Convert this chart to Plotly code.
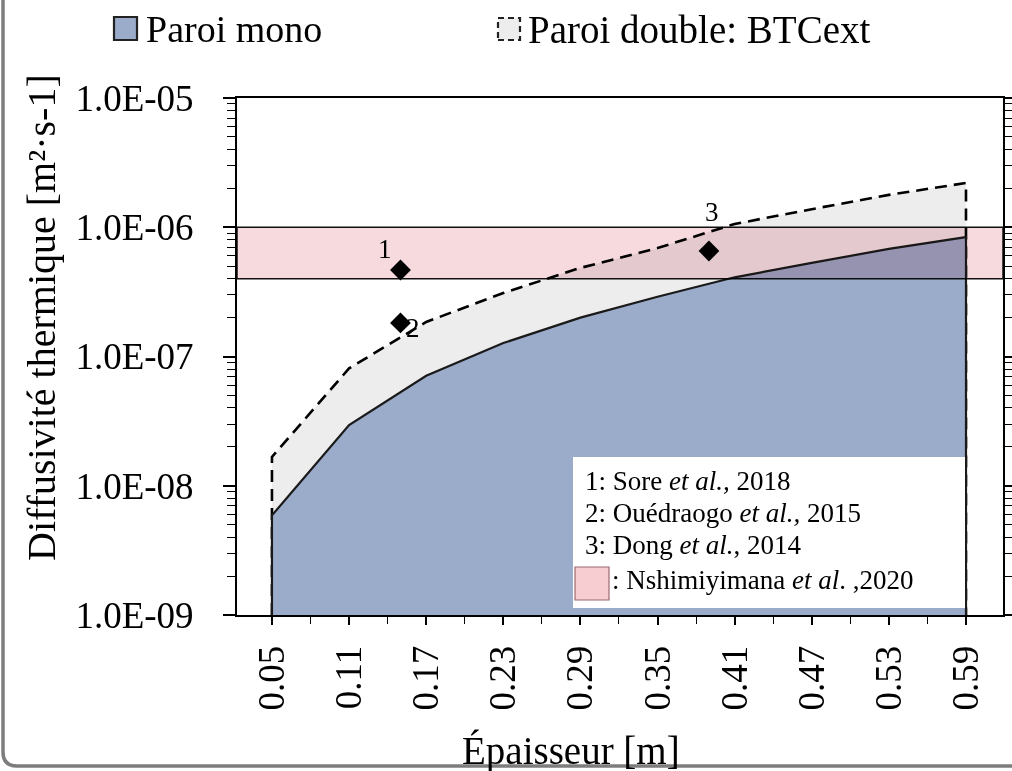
import math
import plotly.graph_objects as go

# ---------------- data ----------------
epaisseur = [0.05, 0.11, 0.17, 0.23, 0.29, 0.35, 0.41, 0.47, 0.53, 0.59]
paroi_mono = [5.9e-9, 2.95e-8, 7.1e-8, 1.27e-7, 2.0e-7, 2.9e-7, 4.1e-7, 5.3e-7, 6.8e-7, 8.4e-7]
paroi_double = [1.67e-8, 8.1e-8, 1.85e-7, 3.1e-7, 4.85e-7, 6.9e-7, 1.06e-6, 1.38e-6, 1.78e-6, 2.2e-6]
baseline = 1e-9

ref_x = [0.15, 0.15, 0.39]
ref_y = [4.67e-7, 1.82e-7, 6.55e-7]
ref_labels = ["1", "2", "3"]

band_low, band_high = 4e-7, 1e-6   # Nshimiyimana et al., 2020

x_tick_vals = [0.05, 0.11, 0.17, 0.23, 0.29, 0.35, 0.41, 0.47, 0.53, 0.59]
x_tick_text = ["0.05", "0.11", "0.17", "0.23", "0.29", "0.35", "0.41", "0.47", "0.53", "0.59"]
y_tick_vals = [1e-9, 1e-8, 1e-7, 1e-6, 1e-5]
y_tick_text = ["1.0E-09", "1.0E-08", "1.0E-07", "1.0E-06", "1.0E-05"]

legend_lines = [
    "1: Sore <i>et al.,</i> 2018",
    "2: Ouédraogo <i>et al.,</i> 2015",
    "3: Dong <i>et al.</i>, 2014",
    ": Nshimiyimana <i>et al</i>. ,2020",
]

# ---------------- style ----------------
FONT = "Liberation Serif, Times New Roman, serif"
BLUE = "rgb(155,172,202)"
GREY = "rgb(237,237,237)"
PINK = "rgb(246,218,222)"

fig = go.Figure()

# double wall area (dashed)
fig.add_trace(go.Scatter(
    x=[epaisseur[0]] + epaisseur + [epaisseur[-1]],
    y=[baseline] + paroi_double + [baseline],
    mode="lines", fill="toself", fillcolor=GREY,
    line=dict(color="black", width=2.6, dash="12px,7px"),
    showlegend=False, hoverinfo="skip"))

# mono wall area
fig.add_trace(go.Scatter(
    x=[epaisseur[0]] + epaisseur + [epaisseur[-1]],
    y=[baseline] + paroi_mono + [baseline],
    mode="lines", fill="toself", fillcolor=BLUE,
    line=dict(color="#1a1a1a", width=2.2),
    showlegend=False, hoverinfo="skip"))

# literature points
fig.add_trace(go.Scatter(
    x=ref_x, y=ref_y, mode="markers",
    marker=dict(symbol="diamond", size=16, color="black"),
    showlegend=False, hoverinfo="skip"))

label_shift = [(-15, 21), (13, -5), (3, 39)]
annotations = []
for xv, yv, t, (dx, dy) in zip(ref_x, ref_y, ref_labels, label_shift):
    annotations.append(dict(x=xv, y=math.log10(yv), xref="x", yref="y",
                            text=t, showarrow=False, xshift=dx, yshift=dy,
                            font=dict(family=FONT, size=27, color="black")))

# paper helpers from pixel positions (plot area: x 237..1003, y 98..615)
def px(xp):
    return (xp - 237) / 766.0

def py(yp):
    return (615 - yp) / 517.0

shapes = []
# pink band (index 0) -> multiply blended via post script
shapes.append(dict(type="rect", xref="paper", yref="y", x0=0, x1=1,
                   y0=band_low, y1=band_high, fillcolor=PINK,
                   line=dict(color="#111111", width=1.5), layer="above"))
# inner legend box
shapes.append(dict(type="rect", xref="paper", yref="paper",
                   x0=px(573), x1=px(965), y0=py(608), y1=py(457),
                   fillcolor="white", line=dict(width=0), layer="above"))
# pink swatch in legend box
shapes.append(dict(type="rect", xref="paper", yref="paper",
                   x0=px(575), x1=px(609), y0=py(600), y1=py(567),
                   fillcolor="rgb(248,205,210)", line=dict(color="#9a6a6e", width=1.2),
                   layer="above"))
# top legend swatches
shapes.append(dict(type="rect", xref="paper", yref="paper",
                   x0=px(114), x1=px(137), y0=py(40), y1=py(17),
                   fillcolor=BLUE, line=dict(color="#222222", width=2.2), layer="above"))
shapes.append(dict(type="rect", xref="paper", yref="paper",
                   x0=px(498), x1=px(520), y0=py(40), y1=py(18),
                   fillcolor=GREY, line=dict(color="#222222", width=2.2, dash="6px,4px"),
                   layer="above"))
# grey frame around the slide (left and bottom, rounded corner)
fx, fy = px(3), py(766)
shapes.append(dict(type="path", xref="paper", yref="paper",
                   path=f"M {fx},{py(-5)} L {fx},{py(752)} Q {fx},{fy} {px(17)},{fy} L {px(1020)},{fy}",
                   line=dict(color="rgb(125,125,125)", width=3.5), layer="above"))

# top legend texts
annotations.append(dict(xref="paper", yref="paper", x=px(144), y=py(29),
                        xanchor="left", yanchor="middle", showarrow=False,
                        text="Paroi mono", font=dict(family=FONT, size=38, color="black")))
annotations.append(dict(xref="paper", yref="paper", x=px(526), y=py(29),
                        xanchor="left", yanchor="middle", showarrow=False,
                        text="Paroi double: BTCext", font=dict(family=FONT, size=39, color="black")))

# inner legend text
line_y = [481, 513, 545, 580]
line_x = [583, 583, 583, 610]
for t, ly, lx in zip(legend_lines, line_y, line_x):
    annotations.append(dict(xref="paper", yref="paper", x=px(lx), y=py(ly),
                            xanchor="left", yanchor="middle", showarrow=False,
                            text=t, font=dict(family=FONT, size=27, color="black")))

# axis titles
annotations.append(dict(xref="paper", yref="paper", x=px(571), y=py(751),
                        xanchor="center", yanchor="middle", showarrow=False,
                        text="Épaisseur [m]", font=dict(family=FONT, size=39, color="black")))
annotations.append(dict(xref="paper", yref="paper", x=px(41), y=py(318),
                        xanchor="center", yanchor="middle", showarrow=False, textangle=-90,
                        text="Diffusivité thermique [m²·s-1]",
                        font=dict(family=FONT, size=40, color="black")))

x_minor = [round(v + 0.03, 2) for v in x_tick_vals[:-1]]
y_minor = [k * 10.0 ** e for e in range(-9, -5) for k in range(2, 10)]

fig.update_layout(
    width=1012, height=771,
    margin=dict(l=237, r=9, t=98, b=156, autoexpand=False),
    paper_bgcolor="white", plot_bgcolor="white",
    font=dict(family=FONT, color="black"),
    shapes=shapes, annotations=annotations,
    showlegend=False,
    xaxis=dict(range=[0.0228, 0.6188], tickmode="array", tickvals=x_tick_vals,
               ticktext=x_tick_text, tickangle=-90, ticks="outside", ticklen=8,
               tickwidth=1.5, tickcolor="black", showline=True, linecolor="black",
               linewidth=2, mirror=True, showgrid=False, zeroline=False,
               automargin=False,
               tickfont=dict(family=FONT, size=37, color="black"),
               ticklabelstandoff=6,
               minor=dict(tickmode="array", tickvals=x_minor, ticks="outside",
                          ticklen=7, tickwidth=1.3, tickcolor="black", showgrid=False)),
    yaxis=dict(type="log", range=[-9, -5], tickmode="array", tickvals=y_tick_vals,
               ticktext=y_tick_text, ticks="outside", ticklen=12, tickwidth=1.5,
               tickcolor="black", showline=True, linecolor="black", linewidth=2,
               mirror="ticks", showgrid=False, zeroline=False,
               automargin=False,
               tickfont=dict(family=FONT, size=37, color="black"),
               ticklabelstandoff=22,
               minor=dict(tickmode="array", tickvals=y_minor, ticks="outside",
                          ticklen=8, tickwidth=1.2, tickcolor="black", showgrid=False)),
)

post = """
var gd = document.getElementById('{plot_id}');
function blendBand(){
  var els = gd.querySelectorAll('.shapelayer [data-index="0"]');
  els.forEach(function(el){
    el.style.mixBlendMode = 'multiply';
    el.style.opacity = 1;
    el.querySelectorAll && el.querySelectorAll('path').forEach(function(p){
      p.style.mixBlendMode = 'multiply';
    });
  });
}
blendBand();
gd.on('plotly_afterplot', blendBand);
"""

fig.write_html("out.html", post_script=post)
